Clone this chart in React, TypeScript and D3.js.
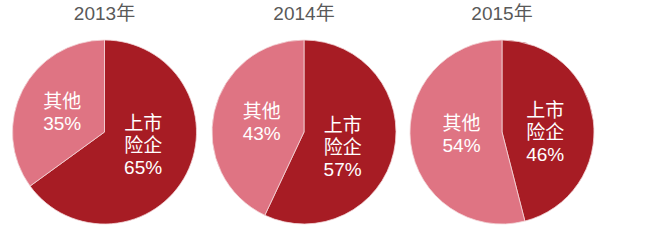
import React from "react";
import * as d3 from "d3";

// Market share of listed insurers vs. others, by year
const years = ["2013年", "2014年", "2015年"];
const listedShare = [65, 57, 46];
const otherShare = [35, 43, 54];
const listedLabel = ["上市", "险企"];
const otherLabel = ["其他"];

const W = 647;
const H = 250;
const R = 92;
const centersX = [104.5, 304, 502];
const CY = 132;
// label block placement relative to each pie's centre, in radius units
const listedLabelPos = [
  [0.42, 0.14],
  [0.42, 0.16],
  [0.47, 0.0],
];
const otherLabelPos = [
  [-0.46, -0.22],
  [-0.46, -0.11],
  [-0.44, 0.02],
];

const DARK = "#a71c24";
const PINK = "#df7483";
const FONT = '"Liberation Sans", Arial, "Noto Sans CJK SC", sans-serif';

export default function App() {
  const pie = d3
    .pie<number>()
    .sort(null)
    .value((d) => d);
  const arc = d3.arc<d3.PieArcDatum<number>>().innerRadius(0).outerRadius(R);

  return (
    <svg width={W} height={H} style={{ position: "absolute", left: 0, top: 0, background: "#fff" }}>
      {years.map((year, i) => {
        const arcs = pie([listedShare[i], otherShare[i]]);
        const cx = centersX[i];
        const lx = cx + listedLabelPos[i][0] * R;
        const ly = CY + listedLabelPos[i][1] * R;
        const ox = cx + otherLabelPos[i][0] * R;
        const oy = CY + otherLabelPos[i][1] * R;
        const lh = 22;
        return (
          <g key={year}>
            <text
              x={cx}
              y={20}
              textAnchor="middle"
              fontFamily={FONT}
              fontSize={19}
              fill="#595959"
            >
              {year}
            </text>
            <g transform={`translate(${cx},${CY})`}>
              {arcs.map((a, j) => (
                <path
                  key={j}
                  d={arc(a) || ""}
                  fill={j === 0 ? DARK : PINK}
                  stroke="#f3d6d8"
                  strokeWidth={0.8}
                />
              ))}
            </g>
            <g fontFamily={FONT} fontSize={19} fill="#fff" textAnchor="middle">
              {[...listedLabel, `${listedShare[i]}%`].map((t, k) => (
                <text key={k} x={lx} y={ly + (k - 1) * lh} dy="0.36em">
                  {t}
                </text>
              ))}
              {[...otherLabel, `${otherShare[i]}%`].map((t, k) => (
                <text key={k} x={ox} y={oy + (k - 0.5) * lh} dy="0.36em">
                  {t}
                </text>
              ))}
            </g>
          </g>
        );
      })}
    </svg>
  );
}
